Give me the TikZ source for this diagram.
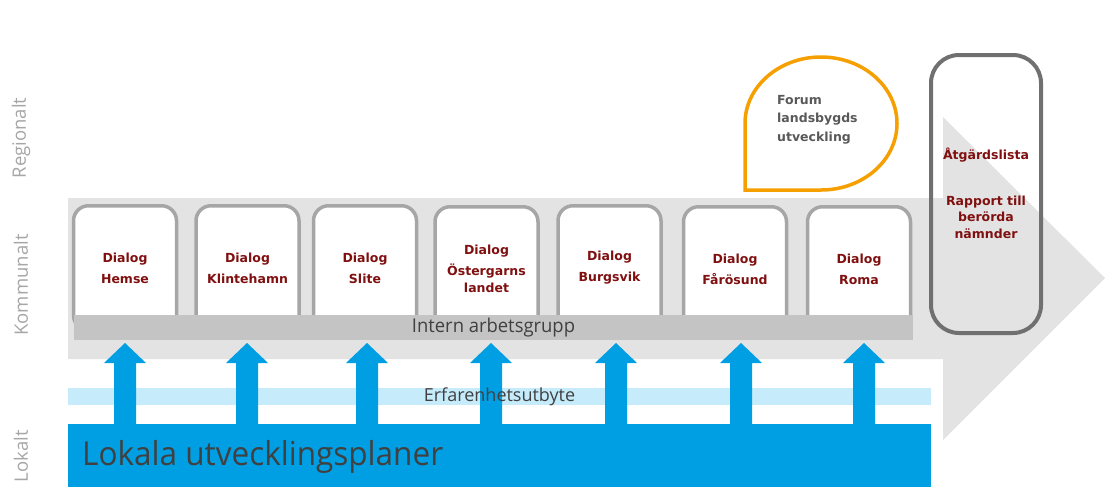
\documentclass[tikz,border=0pt]{standalone}
\usepackage{fontspec}
\setmainfont{Open Sans}
\newfontfamily\verd{DejaVu Sans}
\definecolor{abody}{RGB}{227,227,227}
\definecolor{boxgray}{RGB}{166,166,166}
\definecolor{darkbox}{RGB}{112,112,112}
\definecolor{barg}{RGB}{196,196,196}
\definecolor{dred}{RGB}{128,16,16}
\definecolor{forumg}{RGB}{89,89,89}
\definecolor{orangeb}{RGB}{245,160,0}
\definecolor{ablue}{RGB}{0,159,227}
\definecolor{lblue}{RGB}{198,236,252}
\definecolor{txtg}{RGB}{64,64,64}
\definecolor{lvl}{RGB}{166,166,166}
\begin{document}
\begin{tikzpicture}[x=1pt,y=1pt,
  dialog/.style={draw=boxgray, line width=3.5pt, rounded corners=15pt, fill=white,
    minimum width=103pt, minimum height=124.5pt, inner sep=0pt, align=center,
    text=dred, font=\verd\bfseries\fontsize{12.5}{21}\selectfont},
  redtxt/.style={text=dred, align=center, inner sep=0pt,
    font=\verd\bfseries\fontsize{12.5}{16.5}\selectfont},
  level/.style={rotate=90, text=lvl, inner sep=0pt, font=\fontsize{18.5}{20}\selectfont},
  upblock/.style={fill=ablue}
]
\useasboundingbox (0,0) rectangle (1106,-499);

% big gray arrow
\fill[abody] (68,-198) -- (943,-198) -- (943,-117) -- (1105,-278) -- (943,-440)
  -- (943,-359) -- (68,-359) -- cycle;

% level labels
\node[level] (reg) at (21,-138) {Regionalt};
\node[level] (kom) at (21,-285) {Kommunalt};
\node[level] (lok) at (21,-456) {Lokalt};

% right box
\node[draw=darkbox, line width=4pt, rounded corners=28pt, minimum width=110pt,
  minimum height=278pt, inner sep=0pt] (res) at (986,-194) {};
\node[redtxt] (atg) at (986,-155) {Åtgärdslista};
\node[redtxt] (rap) at (986,-217) {Rapport till\\berörda\\nämnder};

% forum bubble
\filldraw[draw=orangeb, fill=white, line width=3.5pt, line join=miter]
  (745,-190) -- (745,-123.5) arc[start angle=180, end angle=-90, x radius=76, y radius=66.5] -- cycle;
\node[anchor=north west, text=forumg, align=left, inner sep=0pt,
  font=\verd\bfseries\fontsize{12.5}{18.5}\selectfont] (forum) at (777,-95) {Forum\\landsbygds\\utveckling};

% dialog boxes
\node[dialog] (d1) at (125,-268) {Dialog\\Hemse};
\node[dialog] (d2) at (247.5,-268) {Dialog\\Klintehamn};
\node[dialog] (d3) at (365,-268) {Dialog\\Slite};
\node[dialog] (d4) at (486.5,-269) {Dialog\\Östergarns\\[-4pt]landet};
\node[dialog] (d5) at (609.5,-268) {Dialog\\Burgsvik};
\node[dialog] (d6) at (735,-269) {Dialog\\Fårösund};
\node[dialog] (d7) at (859,-269) {Dialog\\Roma};

% intern bar
\node[fill=barg, minimum width=839pt, minimum height=25pt, inner sep=0pt,
  text=txtg, font=\fontsize{19}{20}\selectfont] (intern) at (493.5,-327.5)
  {\scalebox{0.97}[1]{Intern arbetsgrupp}};

% exchange band
\node[fill=lblue, minimum width=863pt, minimum height=17pt, inner sep=0pt] (erf) at (499.5,-396.5) {};

% local plans
\node[fill=ablue, minimum width=863pt, minimum height=63pt, inner sep=0pt] (lokal) at (499.5,-455.5) {};
\node[anchor=west, text=txtg, inner sep=0pt, font=\fontsize{33}{36}\selectfont] (lokt) at (82,-457)
  {\scalebox{0.955}[1]{Lokala utvecklingsplaner}};

% up arrows
\foreach \ax in {125,247,367,491,616,741,864}{
  \fill[upblock] (\ax,-343) -- (\ax+21,-363) -- (\ax+11,-363) -- (\ax+11,-425)
    -- (\ax-11,-425) -- (\ax-11,-363) -- (\ax-21,-363) -- cycle;
}

% exchange label on top of arrows
\node[text=txtg, inner sep=0pt, font=\fontsize{18}{18}\selectfont] (erft) at (erf.center)
  {Erfarenhetsutbyte};
\end{tikzpicture}
\end{document}
